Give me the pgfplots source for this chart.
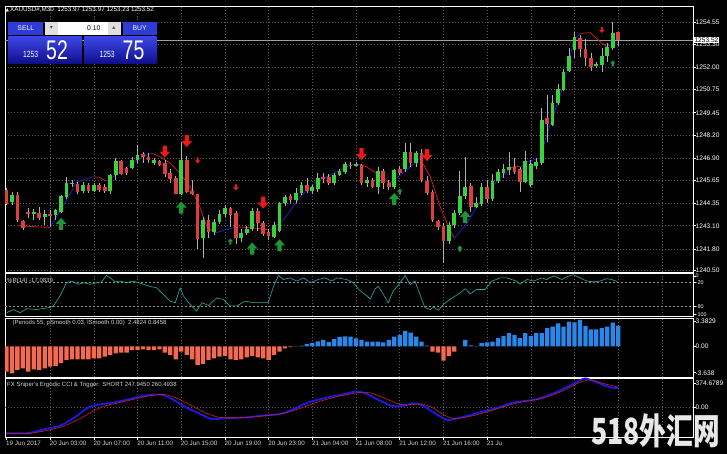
\documentclass[border=0pt]{standalone}
\usepackage{fontspec}
\setmainfont{Liberation Sans}
\newfontfamily\dejavu{DejaVu Sans}
\newfontfamily\cjk{Noto Sans CJK SC}
\usepackage{graphicx}
\usepackage{pgfplots}
\usepackage{pgfplotstable}
\pgfplotsset{compat=1.18}

\definecolor{upc}{RGB}{58,210,58}
\definecolor{dnc}{RGB}{222,62,62}
\definecolor{wickc}{RGB}{175,175,175}
\definecolor{gridc}{RGB}{95,95,95}
\definecolor{mablue}{RGB}{35,35,215}
\definecolor{mared}{RGB}{225,30,30}
\definecolor{arrred}{RGB}{235,25,25}
\definecolor{arrgreen}{RGB}{30,150,55}
\definecolor{wprc}{RGB}{40,175,170}
\definecolor{hpos}{RGB}{40,135,235}
\definecolor{hneg}{RGB}{245,105,80}
\definecolor{ccib}{RGB}{25,25,235}
\definecolor{ccir}{RGB}{215,30,30}
\definecolor{lbl}{RGB}{210,210,210}
\definecolor{btn}{RGB}{45,60,215}
\definecolor{bigtop}{RGB}{60,70,230}
\definecolor{bigbot}{RGB}{15,15,140}
\definecolor{wmc}{RGB}{232,232,232}

\newcommand\tk{\fontsize{6.6}{7}\selectfont}

\pgfdeclareplotmark{arrdown}{%
 \pgfpathmoveto{\pgfqpoint{-0.35\pgfplotmarksize}{1\pgfplotmarksize}}%
 \pgfpathlineto{\pgfqpoint{0.35\pgfplotmarksize}{1\pgfplotmarksize}}%
 \pgfpathlineto{\pgfqpoint{0.35\pgfplotmarksize}{0\pgfplotmarksize}}%
 \pgfpathlineto{\pgfqpoint{0.9\pgfplotmarksize}{0\pgfplotmarksize}}%
 \pgfpathlineto{\pgfqpoint{0\pgfplotmarksize}{-1\pgfplotmarksize}}%
 \pgfpathlineto{\pgfqpoint{-0.9\pgfplotmarksize}{0\pgfplotmarksize}}%
 \pgfpathlineto{\pgfqpoint{-0.35\pgfplotmarksize}{0\pgfplotmarksize}}%
 \pgfpathclose\pgfusepathqfill}
\pgfdeclareplotmark{arrup}{%
 \pgfpathmoveto{\pgfqpoint{-0.35\pgfplotmarksize}{-1\pgfplotmarksize}}%
 \pgfpathlineto{\pgfqpoint{0.35\pgfplotmarksize}{-1\pgfplotmarksize}}%
 \pgfpathlineto{\pgfqpoint{0.35\pgfplotmarksize}{0\pgfplotmarksize}}%
 \pgfpathlineto{\pgfqpoint{0.9\pgfplotmarksize}{0\pgfplotmarksize}}%
 \pgfpathlineto{\pgfqpoint{0\pgfplotmarksize}{1\pgfplotmarksize}}%
 \pgfpathlineto{\pgfqpoint{-0.9\pgfplotmarksize}{0\pgfplotmarksize}}%
 \pgfpathlineto{\pgfqpoint{-0.35\pgfplotmarksize}{0\pgfplotmarksize}}%
 \pgfpathclose\pgfusepathqfill}

\pgfplotsset{
 mt/.style={
  scale only axis, anchor=south west, width=688pt,
  xmin=-0.27, xmax=125.7,
  axis line style={draw=white, line width=0.9pt},
  xtick={8,16,...,120}, xticklabels={}, xtick pos=bottom,
  xtick style={draw=none},
  xmajorgrids,
  grid style={draw=gridc, line width=0.5pt, dash pattern=on 1pt off 2pt},
  ytick pos=right, yticklabel pos=right,
  ytick style={draw=white, line width=0.5pt},
  major tick length=3pt, tick align=outside,
  yticklabel style={font=\tk, text=white, anchor=west, xshift=-1.5pt, inner sep=1pt},
  clip=true,
 },
 wick/.style={draw=none, error bars/.cd, y dir=both, y explicit, error mark=none,
   error bar style={draw=wickc, line width=0.6pt}},
 body/.style={draw=none, error bars/.cd, y dir=both, y explicit, error mark=none,
   error bar style={draw=#1, line width=3.7pt}},
}

\pgfplotstableread{
i O H L C
1 1244.45 1245.01 1244.26 1244.82
5 1243.81 1244.07 1243.42 1243.85
7 1243.59 1243.98 1243.14 1243.76
9 1243.71 1244.07 1243.42 1243.99
10 1243.89 1244.82 1243.80 1244.77
11 1244.73 1245.85 1244.63 1245.48
12 1245.45 1245.70 1245.29 1245.52
14 1245.07 1245.57 1244.95 1245.39
16 1245.07 1245.50 1245.00 1245.39
19 1245.07 1246.04 1244.92 1245.95
20 1245.95 1246.89 1245.67 1246.73
23 1246.33 1246.94 1246.27 1246.79
24 1246.79 1247.63 1246.61 1247.07
27 1246.61 1246.90 1246.50 1246.79
32 1244.92 1247.82 1244.82 1246.83
36 1242.39 1243.60 1241.27 1243.42
38 1242.77 1243.50 1242.60 1243.32
39 1243.32 1244.00 1243.20 1243.79
40 1243.79 1244.30 1243.60 1244.11
43 1242.42 1242.90 1242.20 1242.70
44 1242.73 1243.10 1242.60 1242.92
45 1242.92 1244.10 1242.80 1243.93
49 1242.50 1243.30 1242.40 1243.15
50 1242.80 1244.45 1242.75 1244.39
51 1244.39 1244.85 1244.20 1244.73
53 1244.54 1245.20 1244.40 1244.96
54 1244.92 1245.55 1244.85 1245.39
56 1245.04 1245.40 1244.90 1245.29
57 1245.20 1246.10 1245.00 1245.82
60 1245.53 1246.10 1245.40 1245.95
61 1245.95 1246.30 1245.90 1246.19
62 1246.14 1246.70 1246.00 1246.57
64 1246.53 1246.68 1246.40 1246.56
66 1245.53 1245.85 1245.30 1245.70
68 1245.29 1246.40 1244.90 1246.17
71 1245.29 1246.30 1245.20 1246.27
73 1246.27 1247.73 1246.14 1247.26
75 1246.61 1247.30 1246.40 1247.17
81 1242.27 1243.30 1242.10 1243.15
82 1243.15 1244.00 1243.00 1243.83
83 1243.79 1246.20 1243.70 1244.77
84 1244.77 1246.98 1244.63 1245.29
86 1244.17 1244.70 1244.10 1244.36
87 1244.36 1245.50 1244.20 1245.29
89 1244.63 1246.00 1244.50 1245.61
90 1245.61 1246.30 1245.50 1246.14
91 1246.08 1246.60 1245.80 1246.29
92 1246.23 1247.26 1245.95 1246.40
95 1245.57 1247.30 1245.50 1246.73
96 1245.39 1246.80 1245.30 1246.57
97 1246.45 1246.90 1246.30 1246.70
98 1246.61 1249.70 1246.51 1249.04
100 1248.76 1250.45 1248.70 1249.98
101 1249.98 1251.10 1249.90 1250.78
102 1250.73 1251.95 1250.70 1251.72
103 1251.80 1253.07 1251.76 1252.66
104 1252.98 1254.00 1252.50 1253.72
108 1252.12 1252.30 1252.00 1252.20
109 1252.13 1253.07 1251.76 1252.66
110 1252.66 1253.35 1252.30 1253.16
111 1253.07 1254.56 1252.98 1253.92
}\upbars

\pgfplotstableread{
i O H L C
0 1245.11 1245.22 1244.26 1244.36
2 1244.82 1245.01 1243.32 1243.42
3 1243.38 1243.45 1242.90 1243.00
4 1243.85 1244.07 1243.51 1243.81
6 1243.83 1244.14 1243.42 1243.51
8 1243.75 1243.98 1243.04 1243.71
13 1245.44 1245.57 1244.88 1245.01
15 1245.39 1245.51 1244.95 1245.07
17 1245.39 1245.50 1245.00 1245.11
18 1245.29 1245.44 1244.95 1245.07
21 1246.73 1246.79 1245.95 1246.04
22 1246.33 1246.42 1245.95 1246.08
25 1247.11 1247.26 1246.61 1246.98
26 1246.98 1247.17 1246.61 1246.78
28 1246.73 1246.80 1246.45 1246.55
29 1246.61 1246.79 1245.85 1246.04
30 1246.08 1246.30 1245.50 1245.72
31 1245.80 1245.90 1244.90 1244.92
33 1246.83 1247.00 1244.92 1245.01
34 1245.04 1245.67 1244.82 1244.86
35 1244.88 1244.92 1241.83 1242.39
37 1243.42 1243.70 1242.40 1242.73
41 1244.11 1244.17 1243.04 1243.73
42 1243.79 1243.90 1242.10 1242.39
46 1243.93 1244.10 1242.80 1243.24
47 1243.24 1243.35 1242.50 1242.64
48 1242.73 1242.90 1242.30 1242.50
52 1244.77 1244.90 1244.40 1244.54
55 1245.39 1245.80 1244.95 1245.04
58 1245.85 1246.10 1245.50 1245.72
59 1245.85 1246.00 1245.40 1245.51
63 1246.55 1246.70 1246.30 1246.45
65 1246.51 1246.60 1245.40 1245.51
67 1245.70 1245.80 1245.20 1245.29
69 1246.17 1246.30 1245.20 1245.48
70 1245.51 1245.70 1245.10 1245.25
72 1246.27 1246.45 1245.95 1246.08
74 1247.26 1247.73 1246.40 1246.61
76 1247.20 1247.40 1245.55 1245.67
77 1245.63 1245.90 1244.80 1244.95
78 1245.01 1245.10 1243.30 1243.42
79 1243.38 1243.45 1242.90 1243.04
80 1243.08 1243.24 1241.00 1242.24
85 1245.35 1245.50 1243.90 1244.17
88 1245.29 1245.70 1244.40 1244.63
93 1246.40 1246.90 1246.00 1246.14
94 1246.29 1246.42 1245.01 1245.57
99 1249.14 1250.45 1247.82 1248.82
105 1253.63 1253.82 1252.60 1253.03
106 1253.03 1253.60 1252.10 1252.51
107 1252.51 1252.80 1251.80 1252.04
112 1253.97 1253.97 1253.23 1253.52
}\dnbars

\begin{document}
\begin{tikzpicture}
\fill[black] (0pt,0pt) rectangle (727pt,454pt);

% ---------------- main price panel ----------------
\begin{axis}[mt, at={(5pt,182pt)}, height=266pt,
  ymin=1240.5, ymax=1255.45,
  ytick={1240.62,1241.8,1243.1,1244.35,1245.65,1246.9,1248.2,1249.45,1250.75,1252,1253.3,1254.55},
  yticklabels={1240.50,1241.80,1243.10,1244.35,1245.65,1246.90,1248.20,1249.45,1250.75,1252.00,1253.30,1254.55},
  ymajorgrids]
\addplot[gray!75, line width=0.5pt] coordinates {(-0.27,1253.52) (125.7,1253.52)};
% trend line segments
\addplot[mared, line width=0.7pt] coordinates {(2,1243.1)(5,1243.05)(8,1243.0)};
\addplot[mablue, line width=0.7pt] coordinates {(8,1243.0)(10.7,1244.4)(12.9,1245.57)(15.9,1245.85)};
\addplot[mared, line width=0.7pt] coordinates {(15.9,1245.85)(17,1245.82)(18.3,1245.6)};
\addplot[mablue, line width=0.7pt] coordinates {(18.3,1245.6)(20,1245.95)(23,1246.61)(25,1247.0)(26.6,1247.17)};
\addplot[mared, line width=0.7pt] coordinates {(26.6,1247.17)(28,1247.0)(30,1246.61)(31.8,1246.04)(33.6,1245.29)(35.4,1244.17)(36.7,1243.04)(38.2,1242.7)};
\addplot[mablue, line width=0.7pt] coordinates {(38.2,1242.7)(40,1242.85)(42.2,1243.04)};
\addplot[mared, line width=0.7pt] coordinates {(42.2,1243.04)(44,1243.0)(46,1242.95)(48.3,1242.86)};
\addplot[mablue, line width=0.7pt] coordinates {(48.3,1242.86)(50.7,1243.42)(53.8,1244.73)(56.8,1245.57)(60.5,1246.14)(62.9,1246.51)(64.7,1246.55)};
\addplot[mared, line width=0.7pt] coordinates {(64.7,1246.55)(66,1246.4)(67.8,1246.04)(70.2,1245.5)};
\addplot[mablue, line width=0.7pt] coordinates {(70.2,1245.5)(73.3,1246.23)(75.7,1246.89)};
\addplot[mared, line width=0.7pt] coordinates {(75.7,1246.89)(77.6,1245.85)(79.4,1244.17)(81.2,1242.86)(82,1242.4)};
\addplot[mablue, line width=0.7pt] coordinates {(82,1242.4)(84.3,1243.24)(86.5,1244.35)(89.2,1245.4)(92.2,1246.33)};
\addplot[mared, line width=0.7pt] coordinates {(92.2,1246.33)(93.2,1246.45)(94.2,1246.4)};
\addplot[mablue, line width=0.7pt] coordinates {(94.2,1246.4)(95.3,1246.7)(97.7,1246.89)(99.5,1248.76)(101.4,1250.45)(102.6,1251.76)(103.8,1253.44)(105,1253.91)};
\addplot[mared, line width=0.7pt] coordinates {(105,1253.91)(106.9,1253.95)(108.7,1253.44)(109.9,1253.16)};
\addplot[mablue, line width=0.7pt] coordinates {(109.9,1253.16)(111,1253.3)(112,1253.4)};
% candles
\addplot[wick] table[x=i, y expr={(\thisrow{H}+\thisrow{L})/2}, y error expr={(\thisrow{H}-\thisrow{L})/2}] {\upbars};
\addplot[wick] table[x=i, y expr={(\thisrow{H}+\thisrow{L})/2}, y error expr={(\thisrow{H}-\thisrow{L})/2}] {\dnbars};
\addplot[body=upc] table[x=i, y expr={(\thisrow{O}+\thisrow{C})/2}, y error expr={max(abs(\thisrow{C}-\thisrow{O})/2,0.03)}] {\upbars};
\addplot[body=dnc] table[x=i, y expr={(\thisrow{O}+\thisrow{C})/2}, y error expr={max(abs(\thisrow{C}-\thisrow{O})/2,0.03)}] {\dnbars};
% signal arrows
\addplot[only marks, mark=arrdown, mark size=6pt, color=arrred] coordinates {(29,1247.27)(33,1247.86)(47,1244.4)(65,1247.13)(77,1247.07)};
\addplot[only marks, mark=arrdown, mark size=3pt, color=arrred] coordinates {(35,1246.77)(42,1245.25)(109,1254.1)};
\addplot[only marks, mark=arrup, mark size=6pt, color=arrgreen] coordinates {(10,1243.2)(32,1244.12)(45,1241.82)(50,1242.0)(71,1244.6)(84,1243.6)};
\addplot[only marks, mark=arrup, mark size=3pt, color=arrgreen] coordinates {(41,1242.21)(72,1245.02)(83,1241.82)(111,1252.22)};
\coordinate (bid) at (axis cs:125.7,1253.52);
\end{axis}

% ---------------- Williams %R ----------------
\begin{axis}[mt, at={(5pt,137.5pt)}, height=43pt, ymin=-104.5, ymax=3,
  ytick={-3,-20,-80,-100}, yticklabels={0,-20,-80,-100},
  yticklabel style={font=\fontsize{5.4}{6}\selectfont}]
\draw[gray!85, line width=0.5pt, dash pattern=on 2pt off 2pt] (axis cs:-0.27,-20) -- (axis cs:125.7,-20);
\draw[gray!85, line width=0.5pt, dash pattern=on 2pt off 2pt] (axis cs:-0.27,-80) -- (axis cs:125.7,-80);
\addplot[wprc, line width=0.6pt] coordinates {(0.04,-95)(1.25,-87)(2.5,-95)(3.7,-85)(5.5,-87)(8.0,-82)(8.6,-78)(9.8,-53)(11.0,-20)(11.9,-16)(13.2,-24)(14.1,-20)(15.3,-24)(16.5,-20)(17.4,-18)(18.3,-2)(19.0,-8)(19.9,-18)(20.8,-16)(22.0,-20)(23.2,-16)(25.1,-24)(26.3,-29)(27.5,-33)(28.7,-49)(29.9,-66)(30.9,-70)(31.8,-33)(32.4,-53)(33.6,-74)(34.8,-91)(35.8,-70)(37.0,-77)(38.5,-58)(39.7,-62)(40.9,-78)(42.2,-78)(43.7,-66)(45.2,-70)(47.0,-70)(47.9,-70)(48.9,-29)(49.8,-2)(50.7,-12)(51.9,-8)(53.2,-16)(54.4,-8)(55.6,-20)(57.1,-12)(58.3,-8)(59.6,-16)(60.5,-8)(62.3,-12)(63.5,-20)(64.7,-40)(66.0,-53)(66.6,-61)(67.5,-35)(68.1,-29)(69.0,-49)(69.9,-70)(70.8,-41)(71.8,-25)(73.0,-2)(73.9,-25)(74.8,-16)(75.7,-49)(76.6,-82)(77.6,-87)(78.2,-81)(79.1,-89)(80.0,-74)(81.2,-62)(83.1,-45)(84.0,-35)(84.9,-48)(86.1,-37)(87.6,-37)(88.9,-16)(90.4,-8)(91.6,-8)(93.4,-16)(94.0,-24)(95.3,-12)(96.5,-16)(98.0,-8)(98.9,-12)(100.2,-3)(101.7,-12)(102.6,-5)(103.8,0)(105.0,-8)(106.3,-16)(107.5,-18)(108.7,-16)(109.9,-10)(110.8,-12)(111.8,-17)};
\end{axis}

% ---------------- histogram ----------------
\begin{axis}[mt, at={(5pt,77pt)}, height=59pt, ymin=-3.638, ymax=3.3829,
  ytick={2.94,0,-3.13}, yticklabels={3.3829,0.00,-3.638}]
\addplot[ybar, bar width=4.3pt, bar shift=0pt, fill=hneg, draw=none] coordinates {(0,-3.0)(1,-3.2)(2,-2.8)(3,-2.6)(4,-3.0)(5,-2.73)(6,-2.8)(7,-2.6)(8,-2.41)(9,-2.33)(10,-2.0)(11,-1.61)(12,-1.53)(13,-1.53)(14,-1.53)(15,-1.53)(16,-1.41)(17,-1.41)(18,-1.22)(19,-1.02)(20,-0.82)(21,-0.75)(22,-0.75)(23,-0.43)(24,-0.43)(25,-0.35)(26,-0.43)(27,-0.43)(28,-0.35)(29,-0.75)(30,-1.02)(31,-1.53)(32,-0.62)(33,-1.02)(34,-1.53)(35,-2.2)(36,-2.09)(37,-1.61)(38,-1.41)(39,-1.22)(40,-1.15)(41,-1.53)(42,-1.61)(43,-1.53)(44,-1.3)(45,-1.14)(46,-1.3)(47,-1.41)(48,-1.61)(49,-1.02)(50,-0.62)(51,-0.23)(52,-0.09)(78,-0.62)(79,-0.74)(80,-1.69)(81,-1.13)(82,-0.62)};
\addplot[ybar, bar width=4.3pt, bar shift=0pt, fill=hpos, draw=none] coordinates {(53,0.04)(54,0.09)(55,0.26)(56,0.38)(57,0.6)(58,0.78)(59,0.52)(60,0.87)(61,1.13)(62,1.21)(63,1.17)(64,0.95)(65,0.78)(66,0.58)(67,0.58)(68,0.58)(69,0.48)(70,0.78)(71,1.18)(72,1.38)(73,1.84)(74,1.65)(75,1.18)(76,0.58)(77,0.09)(83,0.02)(84,0.78)(85,0.13)(86,0.05)(87,0.38)(88,0.48)(89,0.58)(90,0.98)(91,1.26)(92,1.57)(93,1.38)(94,0.98)(95,1.57)(96,1.26)(97,1.57)(98,1.57)(99,2.17)(100,2.36)(101,2.75)(102,2.36)(103,2.95)(104,2.86)(105,3.15)(106,2.42)(107,2.04)(108,2.04)(109,2.17)(110,2.36)(111,2.83)(112,2.48)};
\end{axis}

% ---------------- Ergodic CCI ----------------
\begin{axis}[mt, at={(5pt,17pt)}, height=59pt, ymin=-374, ymax=374.68,
  ytick={311,0}, yticklabels={374.6789,0.00},
  extra x ticks={0,8,16,24,32,40,48,56,64,72,80,88},
  extra x tick labels={19 Jun 2017,20 Jun 03:00,20 Jun 07:00,20 Jun 11:00,20 Jun 15:00,20 Jun 19:00,20 Jun 23:00,21 Jun 04:00,21 Jun 08:00,21 Jun 12:00,21 Jun 16:00,21 Ju},
  extra x tick style={grid=none, xtick style={draw=white, line width=0.5pt}, major tick length=3pt,
    xticklabel style={font=\fontsize{6.3}{7}\selectfont, text=lbl, anchor=north west, xshift=-1.5pt, inner sep=1pt}}]
\draw[gridc, line width=0.5pt, dash pattern=on 1pt off 2pt] (axis cs:-0.27,0) -- (axis cs:125.7,0);
\addplot[ccib, line width=1.8pt, smooth, tension=0.4] coordinates {(0,-325)(3.9,-325)(7.3,-270)(9.9,-229)(12.5,-125)(15.0,0)(17.2,42)(19.7,62)(22.3,104)(24.8,146)(27,166)(28.7,158)(30.4,104)(32.9,0)(35.5,-83)(37.6,-146)(40.6,-133)(44,-125)(46.6,-104)(50,-83)(52.6,-21)(55.1,62)(58.6,125)(61.1,158)(63.7,200)(65.4,187)(67.9,104)(70.5,21)(72.6,21)(74.3,50)(76,33)(78.2,-62)(80.7,-158)(83.3,-125)(86.7,-62)(90.1,0)(92.7,62)(97,104)(100.4,187)(103.8,300)(105.9,370)(108,320)(110.6,255)(112,248)};
\addplot[ccir, line width=0.6pt, smooth, tension=0.4] coordinates {(0,-330)(4,-330)(7.5,-290)(10.5,-235)(13.5,-140)(16,-40)(18,20)(20.5,60)(23,100)(25.5,140)(28,165)(29.5,158)(31.5,110)(34,20)(36.5,-70)(39,-125)(41.5,-130)(45,-120)(48,-100)(51,-70)(54,-5)(57,70)(60,130)(62.5,165)(65,195)(67,180)(69.5,110)(72,40)(74,35)(76,45)(78,0)(80,-90)(82,-140)(85,-110)(88,-55)(91,10)(94,65)(98,115)(101.5,200)(105,320)(107,350)(109,310)(112,260)};
\end{axis}

% ---------------- overlays: labels, trade panel, watermark ----------------
\node[fill=white, text=black, font=\tk, inner sep=0.8pt, anchor=west] at ([xshift=0.5pt]bid) {1253.52};

\node[anchor=west, text=white, font=\fontsize{6.3}{7}\selectfont, inner sep=0] at (5.5pt,444pt)
  {{\dejavu\fontsize{4.5}{5}\selectfont ▲}\,XAUUSD\#,M30\ \ 1253.97 1253.97 1253.23 1253.52};

\node[anchor=west, text=lbl, font=\fontsize{6}{7}\selectfont, inner sep=0] at (7pt,173.5pt) {\%R(14) -17.0839};
\node[anchor=west, text=lbl, font=\fontsize{6}{7}\selectfont, inner sep=0] at (12.5pt,131pt) {(Periods 55, pSmooth 0.03, lSmooth 0.00)\ \ 2.4824 0.8458};
\node[anchor=west, text=lbl, font=\fontsize{6}{7}\selectfont, inner sep=0] at (7pt,69pt) {FX Sniper's Ergodic CCI \& Trigger: SHORT 247.9450 260.4938};

% trade panel
\fill[btn] (8.3pt,419pt) rectangle (43.3pt,432.3pt);
\node[text=white, font=\fontsize{6.8}{7}\selectfont] at (25.8pt,425.6pt) {SELL};
\fill[gray!25] (45pt,419pt) rectangle (58pt,432.3pt);
\node[text=black!70, font=\dejavu\fontsize{6}{7}\selectfont] at (51.5pt,425.6pt) {▾};
\fill[white] (58pt,419pt) rectangle (107.5pt,432.3pt);
\node[anchor=east, text=black, font=\fontsize{6.8}{7}\selectfont] at (104pt,425.6pt) {0.10};
\fill[gray!25] (107.5pt,419pt) rectangle (120.5pt,432.3pt);
\node[text=black!70, font=\dejavu\fontsize{6}{7}\selectfont] at (114pt,425.6pt) {▴};
\fill[btn] (122.7pt,419pt) rectangle (156.7pt,432.3pt);
\node[text=white, font=\fontsize{6.8}{7}\selectfont] at (139.7pt,425.6pt) {BUY};
\shade[top color=bigtop, bottom color=bigbot] (8.3pt,390.7pt) rectangle (81.7pt,417.3pt);
\shade[top color=bigtop, bottom color=bigbot] (84pt,390.7pt) rectangle (156.7pt,417.3pt);
\node[anchor=base west, text=white, inner sep=0] at (23pt,396pt) {\scalebox{0.75}[1]{\fontsize{9}{9}\selectfont 1253}};
\node[anchor=base west, text=white, inner sep=0] at (46pt,394.7pt) {\scalebox{0.72}[1]{\fontsize{27}{27}\selectfont 52}};
\node[anchor=base west, text=white, inner sep=0] at (99.5pt,396pt) {\scalebox{0.75}[1]{\fontsize{9}{9}\selectfont 1253}};
\node[anchor=base west, text=white, inner sep=0] at (122.5pt,394.7pt) {\scalebox{0.72}[1]{\fontsize{27}{27}\selectfont 75}};

% watermark
\node[anchor=south west, inner sep=0, text=wmc] at (591pt,6pt) {\scalebox{0.74}[1]{\cjk\bfseries\fontsize{36}{36}\selectfont 518外汇网}};

\pgfresetboundingbox
\useasboundingbox (0pt,0pt) rectangle (727pt,454pt);
\end{tikzpicture}
\end{document}
